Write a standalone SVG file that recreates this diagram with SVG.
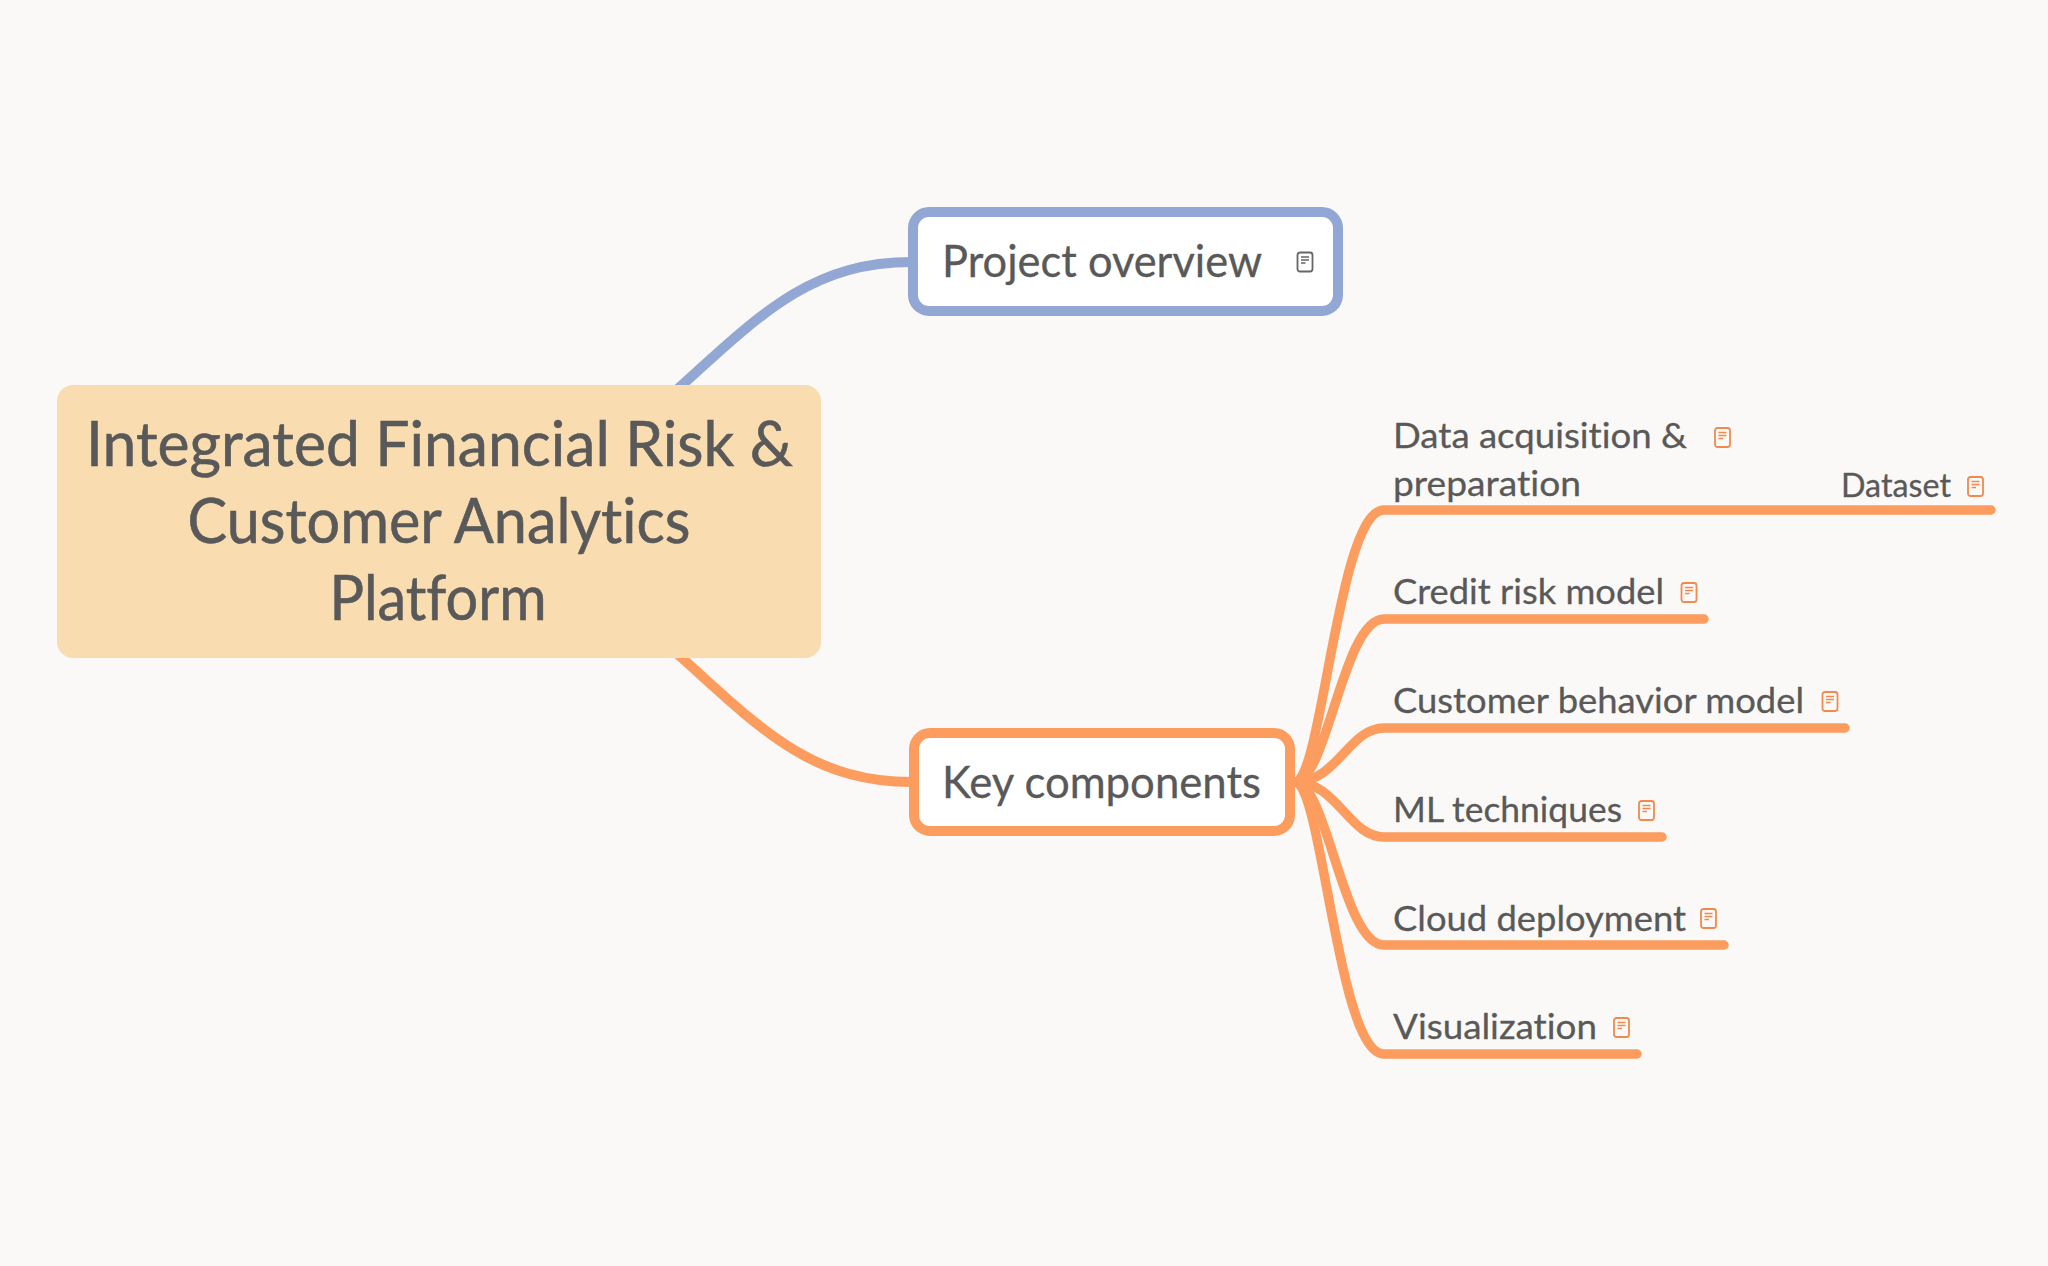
<svg xmlns="http://www.w3.org/2000/svg" width="2048" height="1266" viewBox="0 0 2048 1266">
<style>
text{font-family:"Lato","Noto Sans",sans-serif;fill:#595959;stroke:#595959;stroke-width:.3;font-variant-ligatures:none}
.t0{font-size:62px;stroke-width:.6}
.t1{font-size:44px}
.t2{font-size:35px}
.t3{font-size:32px}
.link{fill:none;stroke-width:10;stroke-linecap:round}
.sub{fill:none;stroke:#fd9c5f;stroke-width:9.500;stroke-linecap:round;stroke-linejoin:round}
.topic{fill:#fff;stroke-width:10}
.ic{color:#f08a4e}
.icg{color:#666}
</style>
<defs>
<g id="note" fill="none" stroke="currentColor">
<rect x="1" y="1" width="15" height="19" rx="2.500" stroke-width="1.800"/>
<path d="M4.500 5.500H12.500M4.500 8.500H12.500M4.500 11.500H9" stroke-width="1.400"/>
</g>
</defs>
<rect width="2048" height="1266" fill="#fbf9f7"/>
<g id="connectors">
<path class="link" stroke="#92a7d3" d="M660 405C755 320 805 262 912 262"/>
<path class="link" stroke="#fd9c5f" d="M660 638C755 723 805 782 912 782"/>
<path class="sub" d="M1295 782C1322 782 1338 510 1384 510H1991"/>
<path class="sub" d="M1295 782C1327 782 1343 619 1384 619H1704"/>
<path class="sub" d="M1295 782C1337 782 1349 728 1384 728H1845"/>
<path class="sub" d="M1295 782C1337 782 1349 837 1384 837H1662"/>
<path class="sub" d="M1295 782C1327 782 1343 945 1384 945H1724"/>
<path class="sub" d="M1295 782C1322 782 1338 1054 1384 1054H1637"/>
</g>
<g id="central">
<rect x="57" y="385" width="764" height="273" rx="16" fill="#f9dcb0"/>
<text class="t0" x="86" y="466" textLength="707" lengthAdjust="spacingAndGlyphs">Integrated Financial Risk &amp;</text>
<text class="t0" x="187.500" y="543" textLength="503" lengthAdjust="spacingAndGlyphs">Customer Analytics</text>
<text class="t0" x="329.500" y="620" textLength="217" lengthAdjust="spacingAndGlyphs">Platform</text>
</g>
<g id="project-overview">
<rect class="topic" x="913" y="212" width="425" height="99" rx="16" stroke="#92a7d3"/>
<text class="t1" x="942" y="277" textLength="320" lengthAdjust="spacingAndGlyphs">Project overview</text>
<use href="#note" class="icg" x="1296.500" y="251.500"/>
</g>
<g id="key-components">
<rect class="topic" x="914" y="733" width="376" height="98" rx="16" stroke="#fd9c5f"/>
<text class="t1" x="942" y="798" textLength="319" lengthAdjust="spacingAndGlyphs">Key components</text>
</g>
<g id="data-acquisition">
<text class="t2" x="1393" y="448" textLength="294" lengthAdjust="spacingAndGlyphs">Data acquisition &amp;</text>
<text class="t2" x="1393" y="495.500" textLength="188" lengthAdjust="spacingAndGlyphs">preparation</text>
<use href="#note" class="ic" x="1714" y="427"/>
</g>
<g id="dataset">
<text class="t3" x="1841" y="497" textLength="110" lengthAdjust="spacingAndGlyphs">Dataset</text>
<use href="#note" class="ic" x="1967" y="476"/>
</g>
<g id="credit-risk-model">
<text class="t2" x="1393" y="603.500" textLength="271" lengthAdjust="spacingAndGlyphs">Credit risk model</text>
<use href="#note" class="ic" x="1680.500" y="582"/>
</g>
<g id="customer-behavior-model">
<text class="t2" x="1393" y="712.500" textLength="411" lengthAdjust="spacingAndGlyphs">Customer behavior model</text>
<use href="#note" class="ic" x="1821.500" y="691"/>
</g>
<g id="ml-techniques">
<text class="t2" x="1393" y="821.500" textLength="229" lengthAdjust="spacingAndGlyphs">ML techniques</text>
<use href="#note" class="ic" x="1638" y="800"/>
</g>
<g id="cloud-deployment">
<text class="t2" x="1393" y="930.500" textLength="293" lengthAdjust="spacingAndGlyphs">Cloud deployment</text>
<use href="#note" class="ic" x="1700" y="908"/>
</g>
<g id="visualization">
<text class="t2" x="1393" y="1038.500" textLength="204" lengthAdjust="spacingAndGlyphs">Visualization</text>
<use href="#note" class="ic" x="1613" y="1017"/>
</g>
</svg>
